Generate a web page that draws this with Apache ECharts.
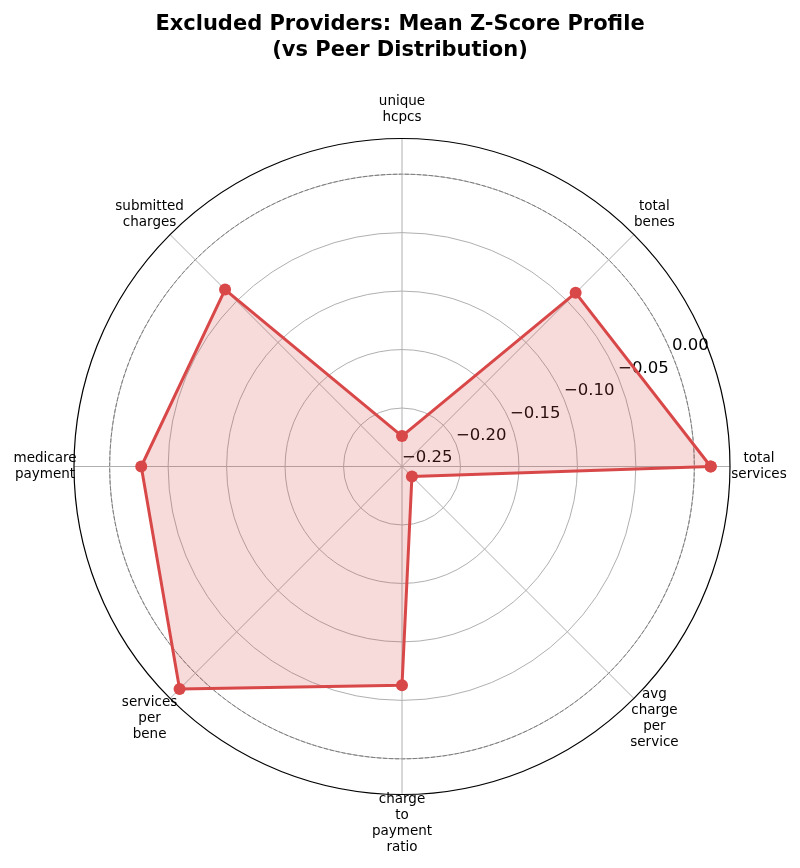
<!DOCTYPE html>
<html>
<head>
<meta charset="utf-8">
<script src="https://cdn.jsdelivr.net/npm/echarts@6/dist/echarts.min.js"></script>
<style>html,body{margin:0;padding:0;background:#fff;}#chart{width:800px;height:868px;}</style>
</head>
<body>
<div id="chart"></div>
<script>
// ---- data ----
const categories = ['total\nservices', 'total\nbenes', 'unique\nhcpcs', 'submitted\ncharges',
  'medicare\npayment', 'services\nper\nbene', 'charge\nto\npayment\nratio', 'avg\ncharge\nper\nservice'];
const values = [0.014, -0.040, -0.224, -0.036, -0.027, 0.019, -0.063, -0.238];
const radialTicks = [-0.25, -0.20, -0.15, -0.10, -0.05, 0.00];
const rMin = -0.25, rMax = 0.0305;
const titleText = 'Excluded Providers: Mean Z-Score Profile\n(vs Peer Distribution)';

// ---- build ----
const FONT = 'DejaVu Sans';
const step = 360 / categories.length;
const lineData = values.map((v, i) => [v, i * step]);
lineData.push([values[0], 360]);
const labelGap = 29;
const labelData = categories.map((c, i) => {
  const a = i * step * Math.PI / 180;
  return {
    value: [rMax, i * step],
    label: { formatter: c, offset: [labelGap * Math.cos(a), -labelGap * Math.sin(a)] }
  };
});
const fmt = v => (v < 0 ? '\u2212' : '') + Math.abs(v).toFixed(2);
const center = [402, 466.5];
const radius = 328;
const red = '#d94848';

const chart = echarts.init(document.getElementById('chart'), null, { renderer: 'canvas' });
chart.setOption({
  animation: false,
  backgroundColor: '#fff',
  title: {
    text: titleText, left: 'center', top: 7,
    textStyle: { fontFamily: FONT, fontSize: 21, fontWeight: 'bold', color: '#000', lineHeight: 26 }
  },
  polar: [
    { center: center, radius: radius },
    { center: center, radius: radius }
  ],
  angleAxis: [
    {
      polarIndex: 0, type: 'value', min: 0, max: 360, interval: step,
      startAngle: 0, clockwise: false,
      axisLine: { show: true, lineStyle: { color: '#000', width: 1.2 } },
      axisTick: { show: false }, axisLabel: { show: false },
      splitLine: { show: true, lineStyle: { color: '#b0b0b0', width: 1 } }
    },
    {
      polarIndex: 1, type: 'value', min: 0, max: 360, startAngle: 22.5, clockwise: false,
      show: false
    }
  ],
  radiusAxis: [
    {
      polarIndex: 0, type: 'value', min: rMin, max: rMax, interval: 0.05,
      axisLine: { show: false }, axisTick: { show: false }, axisLabel: { show: false },
      splitLine: { show: true, lineStyle: { color: ['#b0b0b0', '#b0b0b0', '#b0b0b0', '#b0b0b0', '#b0b0b0', '#b0b0b0', 'transparent'], width: 1 } }
    },
    {
      polarIndex: 1, type: 'value', min: rMin, max: rMax, interval: 0.05,
      axisLine: { show: false }, axisTick: { show: false },
      splitLine: { show: true, lineStyle: { color: ['transparent', 'transparent', 'transparent', 'transparent', 'transparent', '#7a7a7a', 'transparent'], width: 1, type: [4, 2] } },
      axisLabel: {
        show: true, margin: 0, showMaxLabel: false, showMinLabel: true,
        align: 'left', verticalAlign: 'bottom',
        fontFamily: FONT, fontSize: 16.5, color: '#000',
        formatter: v => radialTicks.some(t => Math.abs(t - v) < 1e-9) ? fmt(v) : ''
      }
    }
  ],
  series: [
    {
      type: 'line', coordinateSystem: 'polar', polarIndex: 0,
      data: lineData,
      symbol: 'circle', symbolSize: 12,
      lineStyle: { color: red, width: 3 },
      itemStyle: { color: red },
      areaStyle: { color: red, opacity: 0.2, origin: 'start' },
      z: 3
    },
    {
      type: 'scatter', coordinateSystem: 'polar', polarIndex: 0,
      data: labelData, symbolSize: 1, clip: false,
      itemStyle: { color: 'rgba(0,0,0,0)' },
      label: {
        show: true, position: ['50%', '50%'], align: 'center', verticalAlign: 'middle',
        fontFamily: FONT, fontSize: 13.5, lineHeight: 16, color: '#000', opacity: 1
      },
      z: 4
    }
  ]
});
</script>
</body>
</html>
